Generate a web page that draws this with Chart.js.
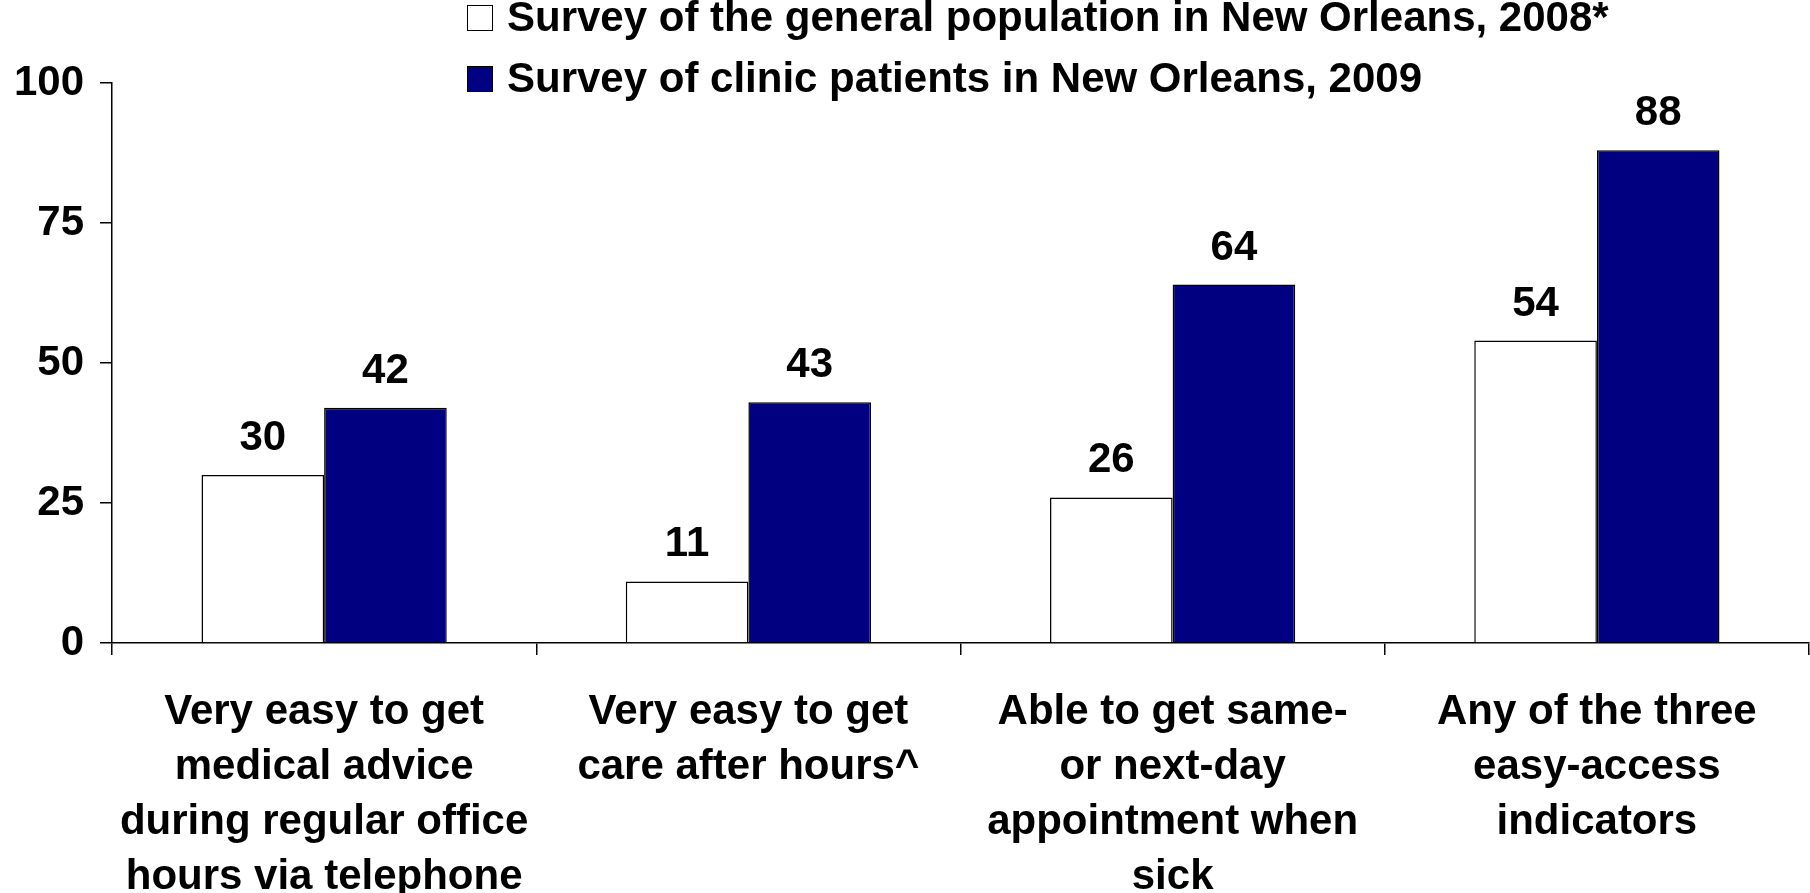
<!DOCTYPE html>
<html>
<head>
<meta charset="utf-8">
<script src="https://cdn.jsdelivr.net/npm/chart.js@4/dist/chart.umd.min.js"></script>
<style>
    html, body {
        margin: 0;
        padding: 0;
        background: #fff;
    }
    #wrap {
        position: relative;
        width: 1810px;
        height: 893px;
    }
    #legend {
        position: absolute;
        left: 467px;
        top: -4px;
        font: bold 42px "Liberation Sans", Arial, sans-serif;
        color: #000;
    }
    #legend .row {
        display: flex;
        align-items: center;
        height: 42px;
        line-height: 42px;
        margin-bottom: 19px;
        white-space: nowrap;
    }
    #legend .box {
        width: 24px;
        height: 24px;
        border: 1.5px solid #000;
        margin-right: 14px;
        position: relative;
        top: 1px;
    }
</style>
</head>
<body>
<div id="wrap">
    <canvas id="chart"></canvas>
    <div id="legend"></div>
</div>
<script>
const categories = [
    ['Very easy to get', 'medical advice', 'during regular office', 'hours via telephone'],
    ['Very easy to get', 'care after hours^'],
    ['Able to get same-', 'or next-day', 'appointment when', 'sick'],
    ['Any of the three', 'easy-access', 'indicators']
];
const seriesNames = [
    'Survey of the general population in New Orleans, 2008*',
    'Survey of clinic patients in New Orleans, 2009'
];
const generalPopulation2008 = [30, 11, 26, 54];
const clinicPatients2009 = [42, 43, 64, 88];
const yTicks = [0, 25, 50, 75, 100];

const FONT = '"Liberation Sans", Arial, sans-serif';

// Writes each bar's value above it
const valueLabels = {
    id: 'valueLabels',
    afterDatasetsDraw(chart) {
        const ctx = chart.ctx;
        ctx.save();
        ctx.font = 'bold 42px ' + FONT;
        ctx.fillStyle = '#000';
        ctx.textAlign = 'center';
        ctx.textBaseline = 'alphabetic';
        chart.data.datasets.forEach((ds, i) => {
            chart.getDatasetMeta(i).data.forEach((bar, j) => {
                ctx.fillText(String(ds.data[j]), bar.x, bar.y - 25);
            });
        });
        ctx.restore();
    }
};

const chart = new Chart(document.getElementById('chart'), {
    type: 'bar',
    data: {
        labels: categories,
        datasets: [{
            label: seriesNames[0],
            data: generalPopulation2008,
            backgroundColor: '#ffffff',
            borderColor: '#000000',
            borderWidth: 1.5
        }, {
            label: seriesNames[1],
            data: clinicPatients2009,
            backgroundColor: '#000080',
            borderColor: '#000000',
            borderWidth: 1.5
        }]
    },
    options: {
        responsive: true,
        maintainAspectRatio: false,
        animation: false,
        layout: {
            padding: { top: 83, right: 1, left: 0, bottom: 0 }
        },
        datasets: {
            bar: {
                barPercentage: 1,
                categoryPercentage: 0.578
            }
        },
        plugins: {
            legend: { display: false },
            tooltip: { enabled: false }
        },
        scales: {
            x: {
                grid: {
                    offset: true,
                    drawOnChartArea: false,
                    tickLength: 12,
                    color: '#000',
                    lineWidth: 1.5
                },
                border: { color: '#000', width: 1.5 },
                ticks: {
                    autoSkip: false,
                    maxRotation: 0,
                    minRotation: 0,
                    padding: 30,
                    color: '#000',
                    font: { family: FONT, size: 42, weight: 'bold', lineHeight: 1.31 }
                },
                afterFit(scale) {
                    scale.height = 250;
                }
            },
            y: {
                min: 0,
                max: 100,
                afterBuildTicks(scale) {
                    scale.ticks = yTicks.map(v => ({ value: v }));
                },
                grid: {
                    drawOnChartArea: false,
                    tickLength: 12,
                    color: '#000',
                    lineWidth: 1.5
                },
                border: { color: '#000', width: 1.5 },
                ticks: {
                    padding: 16,
                    color: '#000',
                    font: { family: FONT, size: 42, weight: 'bold' }
                },
                afterFit(scale) {
                    scale.width = 112;
                }
            }
        }
    },
    plugins: [valueLabels]
});

// Legend rows built from the chart's datasets
const legendEl = document.getElementById('legend');
chart.data.datasets.forEach(ds => {
    const row = document.createElement('div');
    row.className = 'row';
    const box = document.createElement('span');
    box.className = 'box';
    box.style.background = ds.backgroundColor;
    const text = document.createElement('span');
    text.textContent = ds.label;
    row.appendChild(box);
    row.appendChild(text);
    legendEl.appendChild(row);
});
</script>
</body>
</html>
